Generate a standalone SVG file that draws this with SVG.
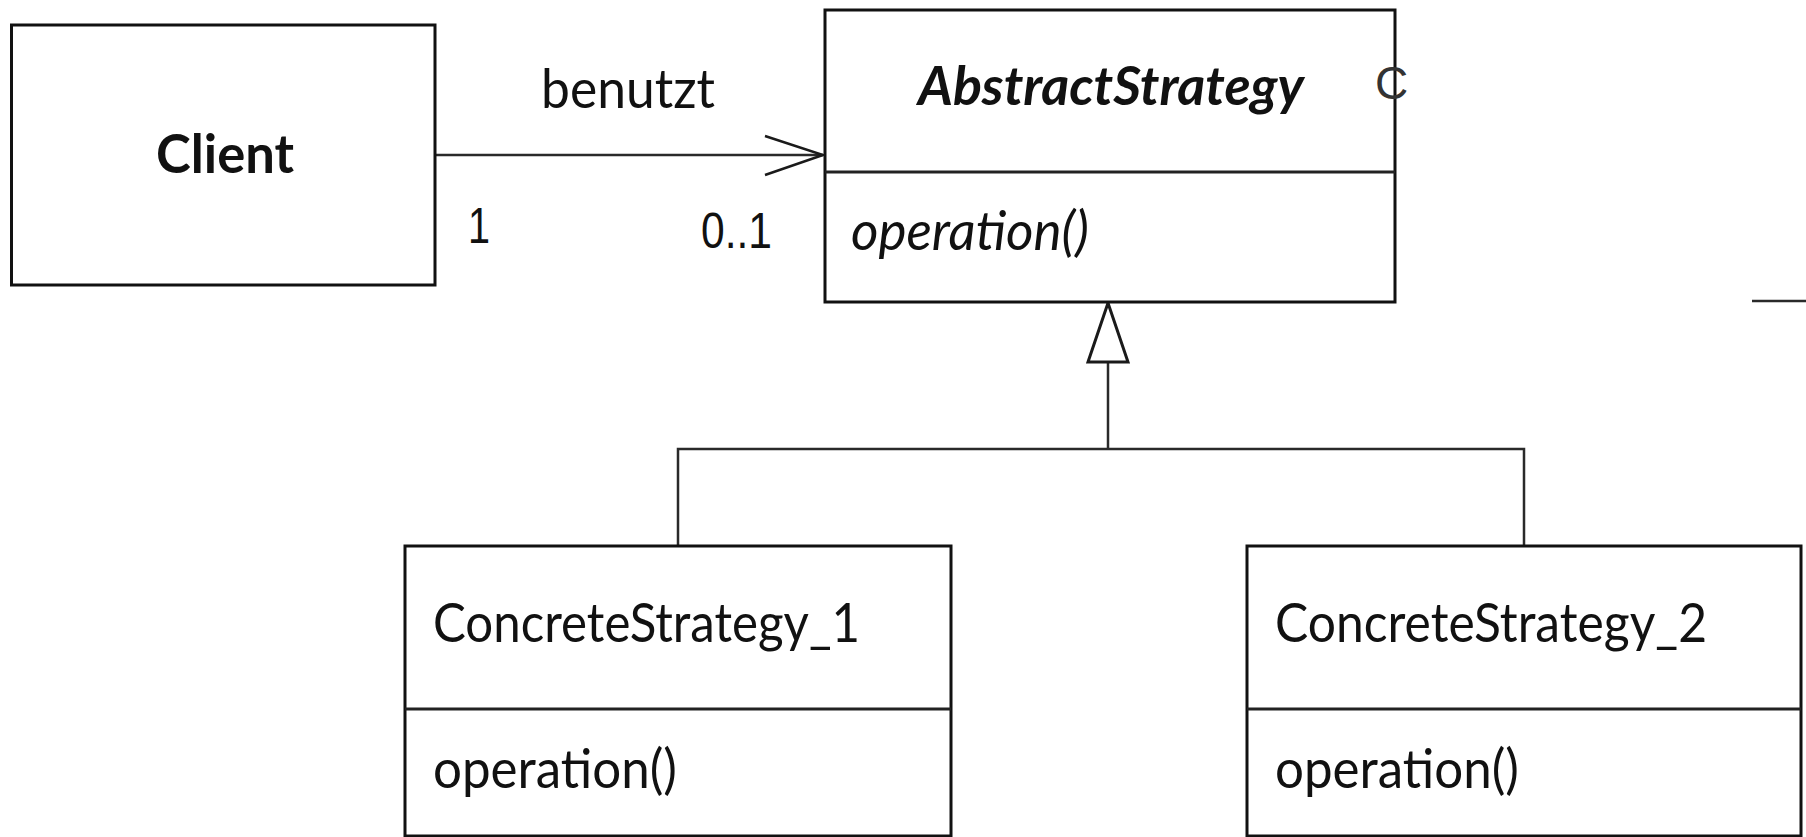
<svg xmlns="http://www.w3.org/2000/svg" width="1806" height="837" viewBox="0 0 1806 837">
  <style>
    .box { fill: #ffffff; stroke: #111111; stroke-width: 3; }
    .sep { stroke: #222222; stroke-width: 3; }
    .edge { fill: none; stroke: #2a2a2a; stroke-width: 2.5; }
    .txt { font-family: Lato, "Liberation Sans", sans-serif; font-size: 54px; fill: #111111; }
    .num { font-family: "Liberation Sans", sans-serif; font-size: 50px; fill: #111111; }
    .bold { font-weight: bold; }
    .ital { font-style: italic; }
  </style>
  <defs>
    <!-- open arrowhead for navigable association -->
    <marker id="openArrow" markerUnits="userSpaceOnUse" viewBox="-2 -22 64 44" refX="58" refY="0" markerWidth="64" markerHeight="44" orient="auto">
      <path d="M0,-19 L58,0 L0,20" fill="none" stroke="#1a1a1a" stroke-width="2.5"/>
    </marker>
    <!-- hollow triangle for generalization -->
    <marker id="hollowTri" markerUnits="userSpaceOnUse" viewBox="-3 -24 65 48" refX="59" refY="0" markerWidth="65" markerHeight="48" orient="auto">
      <path d="M0,-20 L59,0 L0,20 Z" fill="#ffffff" stroke="#1a1a1a" stroke-width="3"/>
    </marker>
  </defs>

  <!-- connectors -->
  <g id="connectors">
    <line class="edge" x1="435" y1="155" x2="823" y2="155" marker-end="url(#openArrow)"/>
    <path class="edge" d="M678,546 V449 H1524 V546"/>
    <path class="edge" d="M1108,449 V303" marker-end="url(#hollowTri)"/>
    <line class="edge" x1="1752" y1="301" x2="1806" y2="301" stroke-width="3"/>
    <text class="txt" x="541" y="108" textLength="174" lengthAdjust="spacingAndGlyphs">benutzt</text>
    <text class="num" x="468" y="243" textLength="22" lengthAdjust="spacingAndGlyphs">1</text>
    <text class="num" x="701" y="248" textLength="71" lengthAdjust="spacingAndGlyphs">0..1</text>
  </g>

  <!-- Client -->
  <g id="client">
    <rect class="box" x="11.5" y="25" width="423.5" height="260"/>
    <text class="txt bold" x="156" y="173" textLength="138" lengthAdjust="spacingAndGlyphs">Client</text>
  </g>

  <!-- AbstractStrategy -->
  <g id="abstractStrategy">
    <rect class="box" x="825" y="10" width="570" height="292"/>
    <line class="sep" x1="825" y1="172" x2="1395" y2="172"/>
    <text class="txt bold ital" x="918" y="105" textLength="386" lengthAdjust="spacingAndGlyphs">AbstractStrategy</text>
    <text class="txt ital" x="851" y="250" textLength="238" lengthAdjust="spacingAndGlyphs">operation()</text>
    <text x="1375" y="99" font-family="'Liberation Sans', sans-serif" font-size="46" fill="#333333">C</text>
  </g>

  <!-- ConcreteStrategy_1 -->
  <g id="concreteStrategy1">
    <rect class="box" x="405" y="546" width="546" height="290"/>
    <line class="sep" x1="405" y1="709" x2="951" y2="709"/>
    <text class="txt" x="433" y="642" textLength="427" lengthAdjust="spacingAndGlyphs">ConcreteStrategy_1</text>
    <text class="txt" x="433" y="788" textLength="244" lengthAdjust="spacingAndGlyphs">operation()</text>
  </g>

  <!-- ConcreteStrategy_2 -->
  <g id="concreteStrategy2">
    <rect class="box" x="1247" y="546" width="554" height="290"/>
    <line class="sep" x1="1247" y1="709" x2="1801" y2="709"/>
    <text class="txt" x="1275" y="642" textLength="432" lengthAdjust="spacingAndGlyphs">ConcreteStrategy_2</text>
    <text class="txt" x="1275" y="788" textLength="244" lengthAdjust="spacingAndGlyphs">operation()</text>
  </g>
</svg>
